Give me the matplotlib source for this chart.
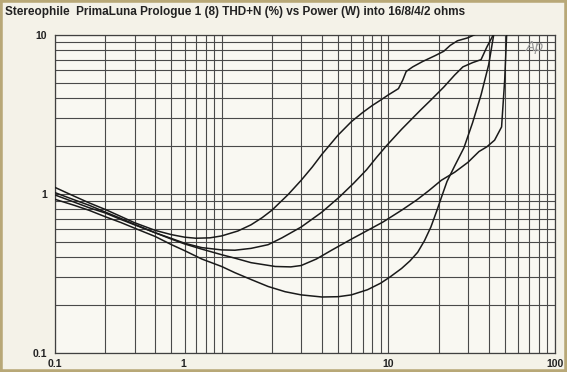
import matplotlib
matplotlib.use("Agg")
import matplotlib.pyplot as plt
import matplotlib.transforms as mtransforms
from matplotlib.patches import Rectangle
from matplotlib.ticker import LogLocator, NullFormatter

# ---- data (Power W, THD+N %) ----
c1_x = [0.1, 0.13, 0.16, 0.2, 0.25, 0.3, 0.4, 0.5, 0.6, 0.7, 0.85, 1.0, 1.25, 1.5, 1.75, 2.0, 2.5, 3.0, 3.5, 4.0, 5.0, 6.0, 7.0, 8.0, 9.0, 10.0, 11.5, 12.2, 12.8, 14.0, 16.0, 19.0, 21.5, 23.5, 26.0, 30.0, 34.0]
c1_y = [1.10, 0.97, 0.88, 0.80, 0.72, 0.66, 0.59, 0.555, 0.535, 0.527, 0.53, 0.545, 0.585, 0.64, 0.71, 0.79, 0.99, 1.22, 1.48, 1.78, 2.35, 2.85, 3.25, 3.6, 3.9, 4.2, 4.6, 5.2, 5.9, 6.3, 6.8, 7.4, 7.9, 8.6, 9.2, 9.6, 10.2]

c2_x = [0.1, 0.13, 0.16, 0.2, 0.25, 0.3, 0.4, 0.5, 0.6, 0.76, 1.0, 1.2, 1.5, 1.9, 2.3, 3.0, 4.0, 5.1, 6.2, 7.4, 8.5, 9.7, 12.0, 15.6, 18.0, 21.5, 25.0, 28.0, 32.0, 36.0, 39.0, 43.0]
c2_y = [1.02, 0.92, 0.85, 0.77, 0.70, 0.645, 0.57, 0.525, 0.49, 0.46, 0.445, 0.443, 0.455, 0.48, 0.53, 0.62, 0.77, 0.96, 1.17, 1.42, 1.70, 2.0, 2.55, 3.37, 3.9, 4.7, 5.6, 6.3, 6.7, 7.0, 8.4, 10.2]

c3_x = [0.1, 0.13, 0.16, 0.2, 0.25, 0.3, 0.4, 0.5, 0.6, 0.76, 1.0, 1.2, 1.5, 2.1, 2.6, 3.0, 3.7, 4.6, 6.0, 7.5, 9.3, 12.0, 14.8, 17.5, 20.8, 25.0, 30.0, 35.0, 39.0, 43.4, 47.8, 49.9, 51.3]
c3_y = [0.986, 0.89, 0.82, 0.76, 0.69, 0.64, 0.57, 0.52, 0.485, 0.45, 0.415, 0.395, 0.37, 0.35, 0.348, 0.355, 0.39, 0.445, 0.52, 0.59, 0.667, 0.79, 0.917, 1.05, 1.22, 1.37, 1.58, 1.85, 1.98, 2.18, 2.64, 5.2, 10.2]

c4_x = [0.1, 0.13, 0.16, 0.2, 0.25, 0.3, 0.4, 0.5, 0.6, 0.76, 1.0, 1.2, 1.5, 1.9, 2.4, 3.0, 4.0, 5.0, 6.0, 7.5, 9.0, 10.2, 12.0, 13.5, 15.0, 16.5, 18.0, 19.5, 20.8, 22.5, 25.0, 28.4, 32.0, 36.0, 40.0, 43.0]
c4_y = [0.926, 0.85, 0.79, 0.72, 0.66, 0.61, 0.54, 0.48, 0.44, 0.39, 0.35, 0.32, 0.29, 0.262, 0.243, 0.232, 0.225, 0.226, 0.232, 0.25, 0.275, 0.30, 0.34, 0.38, 0.43, 0.51, 0.62, 0.78, 0.95, 1.2, 1.5, 1.95, 2.8, 4.2, 6.5, 10.2]

x_ticks = [0.1, 1, 10, 100]
x_tick_labels = ["0.1", "1", "10", "100"]
y_ticks = [0.1, 1, 10]
y_tick_labels = ["0.1", "1", "10"]
title = "Stereophile  PrimaLuna Prologue 1 (8) THD+N (%) vs Power (W) into 16/8/4/2 ohms"

W, H = 567, 372
fig = plt.figure(figsize=(W / 100, H / 100), dpi=100)
fig.patch.set_facecolor("#f4f2e8")
fig.patches.append(Rectangle((0, 0), 1, 1, transform=fig.transFigure, fill=False,
                             edgecolor="#b8a877", linewidth=4, zorder=10))

ax = fig.add_axes([55 / W, 1 - 353 / H, 500 / W, 318 / H])
ax.set_facecolor("#f9f8f2")
ax.set_xscale("log")
ax.set_yscale("log")
ax.set_xlim(0.1, 100)
ax.set_ylim(0.1, 10)

ax.xaxis.set_minor_locator(LogLocator(base=10, subs=range(2, 10)))
ax.yaxis.set_minor_locator(LogLocator(base=10, subs=range(2, 10)))
ax.xaxis.set_minor_formatter(NullFormatter())
ax.yaxis.set_minor_formatter(NullFormatter())
ax.grid(True, which="both", color="#4a4a4a", linewidth=0.8)
ax.set_axisbelow(True)

for s in ax.spines.values():
    s.set_color("#404040")
    s.set_linewidth(0.9)

ax.set_xticks(x_ticks)
ax.set_xticklabels(x_tick_labels)
ax.set_yticks(y_ticks)
ax.set_yticklabels(y_tick_labels)
ax.tick_params(which="both", length=0)
ax.tick_params(axis="x", pad=4.5)
ax.tick_params(axis="y", pad=6)
for lab in ax.get_xticklabels() + ax.get_yticklabels():
    lab.set_fontfamily("Liberation Sans")
    lab.set_fontweight("bold")
    lab.set_fontsize(7.5)
    lab.set_color("#222222")

# the "1" label in the reference sits left of its grid line
lab1 = ax.get_xticklabels()[1]
lab1.set_transform(lab1.get_transform() +
                   mtransforms.ScaledTranslation(-38 / 100, 0, fig.dpi_scale_trans))

for xs, ys in [(c1_x, c1_y), (c2_x, c2_y), (c3_x, c3_y), (c4_x, c4_y)]:
    ax.plot(xs, ys, color="#1a1a1a", linewidth=1.1, solid_joinstyle="round", zorder=3)

ax.text(0.96, 0.962, "Ap", transform=ax.transAxes, ha="center", va="center",
        fontsize=10, style="italic", color="#9a9a9a", family="DejaVu Sans")

fig.text(5 / W, 1 - 12 / H, title, ha="left", va="center", fontsize=8.5,
         fontweight="bold", family="Liberation Sans", color="#222222")

fig.savefig("out.png", dpi=100, facecolor=fig.get_facecolor())
